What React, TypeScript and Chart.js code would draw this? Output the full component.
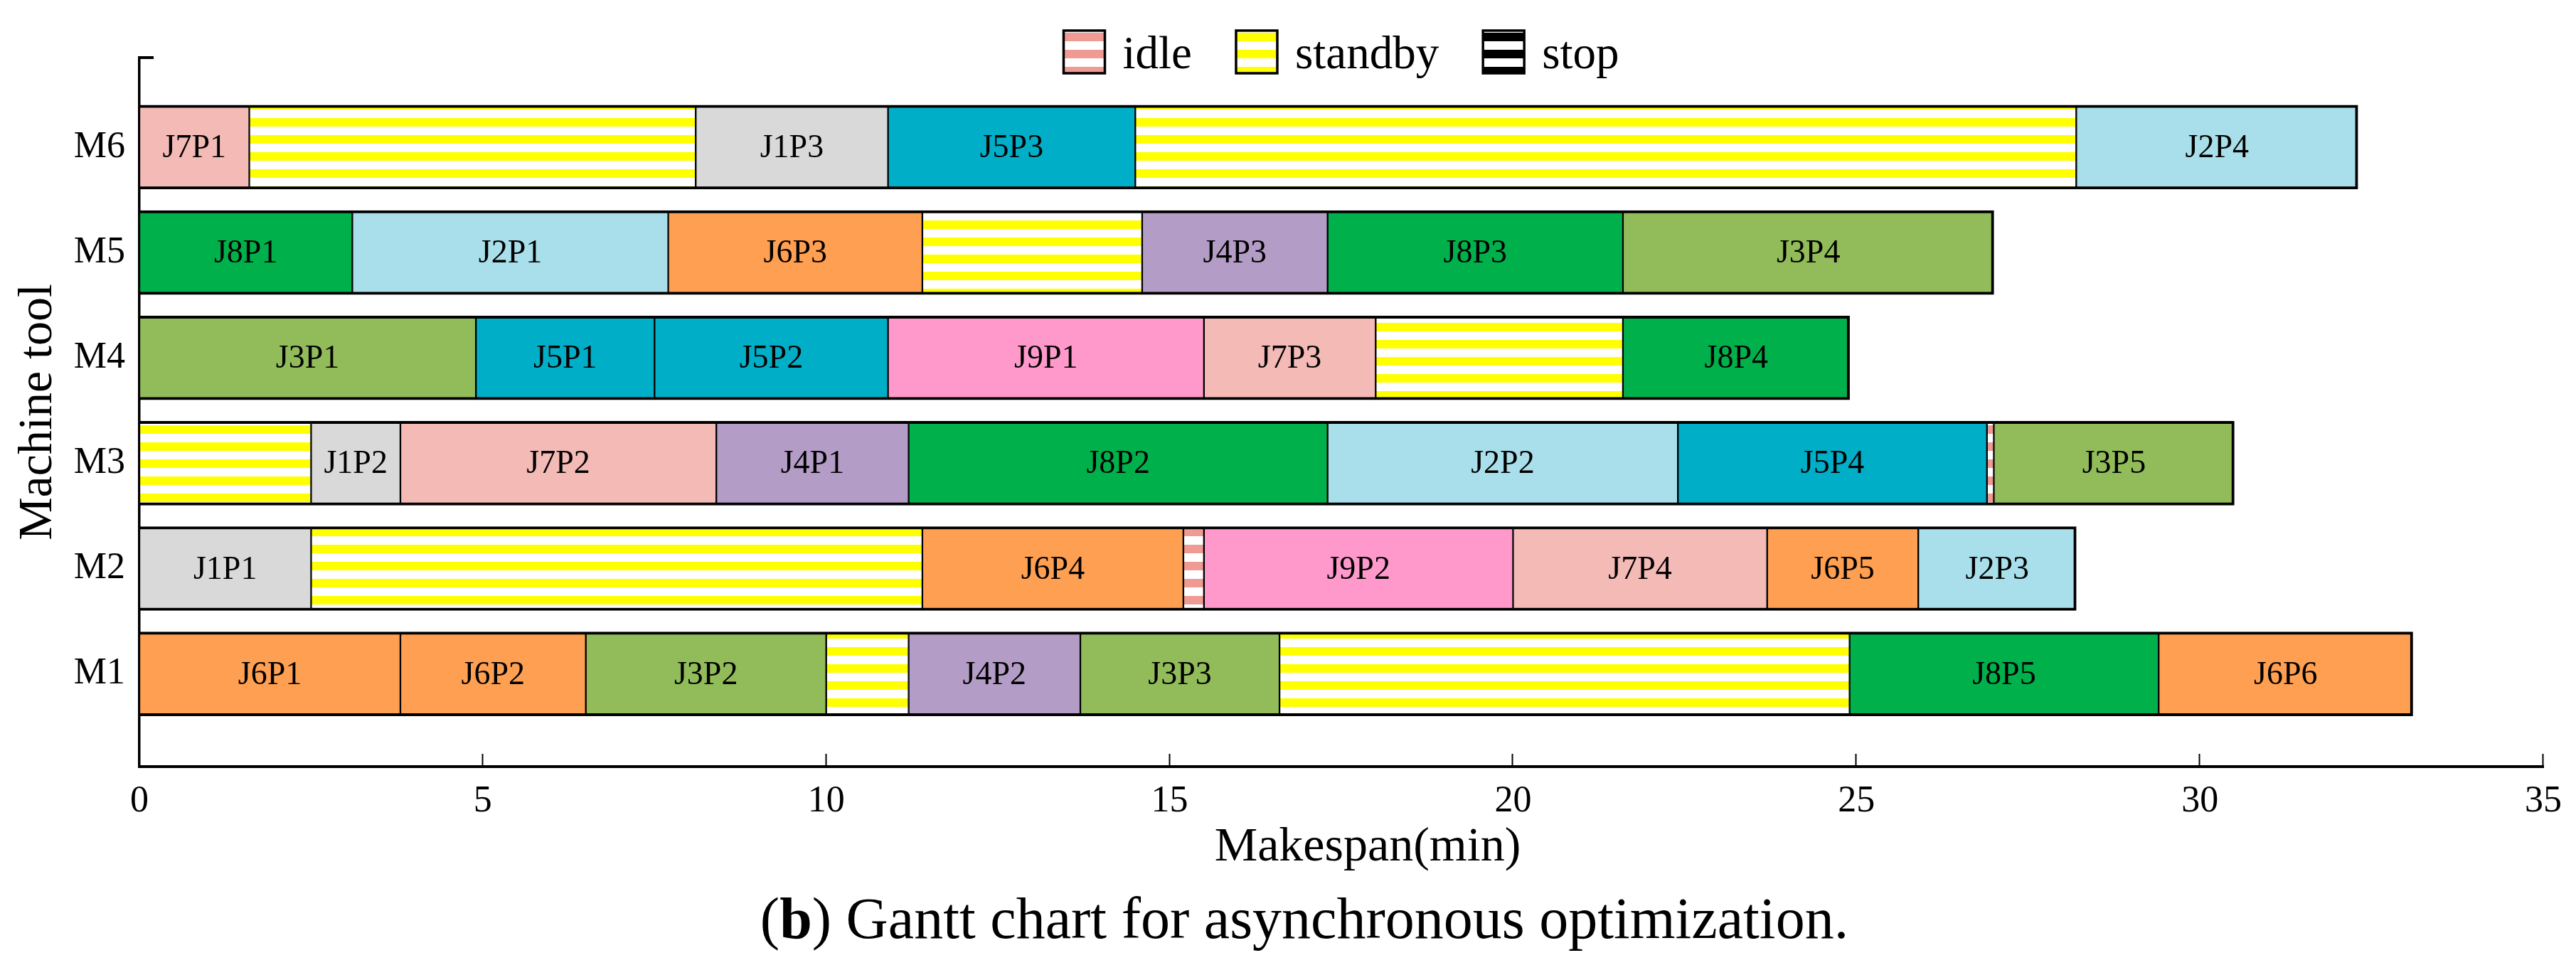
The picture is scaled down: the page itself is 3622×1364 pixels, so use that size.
import React, { useEffect, useRef } from 'react';
import { Chart, registerables } from 'chart.js';

Chart.register(...registerables);

// ---------------- data ----------------
const machines = ['M1', 'M2', 'M3', 'M4', 'M5', 'M6'];

const m1Tasks = ['J6P1', 'J6P2', 'J3P2', 'standby', 'J4P2', 'J3P3', 'standby', 'J8P5', 'J6P6'];
const m1Ends = [3.8, 6.5, 10.0, 11.2, 13.7, 16.6, 24.9, 29.4, 33.1];

const m2Tasks = ['J1P1', 'standby', 'J6P4', 'idle', 'J9P2', 'J7P4', 'J6P5', 'J2P3'];
const m2Ends = [2.5, 11.4, 15.2, 15.5, 20.0, 23.7, 25.9, 28.2];

const m3Tasks = ['standby', 'J1P2', 'J7P2', 'J4P1', 'J8P2', 'J2P2', 'J5P4', 'idle', 'J3P5'];
const m3Ends = [2.5, 3.8, 8.4, 11.2, 17.3, 22.4, 26.9, 27.0, 30.5];

const m4Tasks = ['J3P1', 'J5P1', 'J5P2', 'J9P1', 'J7P3', 'standby', 'J8P4'];
const m4Ends = [4.9, 7.5, 10.9, 15.5, 18.0, 21.6, 24.9];

const m5Tasks = ['J8P1', 'J2P1', 'J6P3', 'standby', 'J4P3', 'J8P3', 'J3P4'];
const m5Ends = [3.1, 7.7, 11.4, 14.6, 17.3, 21.6, 27.0];

const m6Tasks = ['J7P1', 'standby', 'J1P3', 'J5P3', 'standby', 'J2P4'];
const m6Ends = [1.6, 8.1, 10.9, 14.5, 28.2, 32.3];

const xTicks = [0, 5, 10, 15, 20, 25, 30, 35];
const legendLabels = ['idle', 'standby', 'stop'];
const xTitle = 'Makespan(min)';
const yTitle = 'Machine tool';

// ---------------- styles ----------------
const FONT = '"Liberation Serif", "Times New Roman", serif';
const jobColors: Record<string, string> = {
  J1: '#D9D9D9',
  J2: '#A9DFEA',
  J3: '#92BC5A',
  J4: '#B39CC5',
  J5: '#00AEC7',
  J6: '#FF9F51',
  J7: '#F3BAB6',
  J8: '#00B04B',
  J9: '#FF99CC',
};
const stripeColors: Record<string, string> = {
  idle: '#F09A94',
  standby: '#FFFF00',
  stop: '#000000',
};

const W = 3606;
const H = 1240;

function makePattern(ctx: CanvasRenderingContext2D, color: string) {
  const c = document.createElement('canvas');
  c.width = 4;
  c.height = 24;
  const g = c.getContext('2d')!;
  g.fillStyle = '#FFFFFF';
  g.fillRect(0, 0, 4, 24);
  g.fillStyle = color;
  for (let y = 0; y < 24; y++) {
    if (((y - 14 + 24) % 24) < 12) g.fillRect(0, y, 4, 1);
  }
  return ctx.createPattern(c, 'repeat')!;
}

export default function App() {
  const ref = useRef<HTMLCanvasElement | null>(null);

  useEffect(() => {
    const canvas = ref.current!;
    const ctx0 = canvas.getContext('2d')!;
    const patterns: Record<string, CanvasPattern> = {
      idle: makePattern(ctx0, stripeColors.idle),
      standby: makePattern(ctx0, stripeColors.standby),
      stop: makePattern(ctx0, stripeColors.stop),
    };

    const rows: [string[], number[]][] = [
      [m1Tasks, m1Ends],
      [m2Tasks, m2Ends],
      [m3Tasks, m3Ends],
      [m4Tasks, m4Ends],
      [m5Tasks, m5Ends],
      [m6Tasks, m6Ends],
    ];
    const segs: any[] = [];
    rows.forEach(([tasks, ends], mi) => {
      tasks.forEach((t, i) => {
        segs.push({
          x: [i === 0 ? 0 : ends[i - 1], ends[i]],
          y: mi + 1,
          task: t,
          last: i === tasks.length - 1,
        });
      });
    });

    const fillFor = (t: string) =>
      patterns[t] ? patterns[t] : jobColors[t.slice(0, 2)];

    const decor = {
      id: 'decor',
      afterDatasetsDraw(chart: any) {
        const ctx = chart.ctx as CanvasRenderingContext2D;
        const meta = chart.getDatasetMeta(0);
        ctx.save();
        ctx.fillStyle = '#000';
        ctx.font = `46px ${FONT}`;
        ctx.textAlign = 'center';
        ctx.textBaseline = 'middle';
        meta.data.forEach((bar: any, i: number) => {
          const s = segs[i];
          if (patterns[s.task]) return;
          const p = bar.getProps(['x', 'y', 'base'], true);
          ctx.fillText(s.task, (p.x + p.base) / 2, p.y + 2);
        });
        ctx.restore();
      },
      afterDraw(chart: any) {
        const ctx = chart.ctx as CanvasRenderingContext2D;
        const area = chart.chartArea;
        const xs = chart.scales.x;
        ctx.save();
        ctx.strokeStyle = '#000';
        // inward x ticks
        ctx.lineWidth = 2;
        xTicks.forEach((v) => {
          if (v === 0) return;
          const px = Math.round(xs.getPixelForValue(v)) - 0.5;
          ctx.beginPath();
          ctx.moveTo(px, area.bottom);
          ctx.lineTo(px, area.bottom - 18);
          ctx.stroke();
        });
        // top stub on y axis
        ctx.lineWidth = 4;
        ctx.beginPath();
        ctx.moveTo(area.left - 1, area.top);
        ctx.lineTo(area.left + 20, area.top);
        ctx.stroke();

        // x-axis title (slightly right of centre, as in the source)
        ctx.fillStyle = '#000';
        ctx.font = `68px ${FONT}`;
        ctx.textAlign = 'center';
        ctx.textBaseline = 'middle';
        ctx.fillText(xTitle, (area.left + area.right) / 2 + 37, 1184);

        // legend
        ctx.font = `65px ${FONT}`;
        ctx.textBaseline = 'alphabetic';
        ctx.textAlign = 'left';
        const boxW = 58;
        const boxTop = 35;
        const boxH = 60;
        const gapText = 25;
        const gapItem = 62;
        const widths = legendLabels.map((l) => ctx.measureText(l).width);
        const total =
          widths.reduce((a, b) => a + b, 0) +
          legendLabels.length * (boxW + gapText) +
          (legendLabels.length - 1) * gapItem;
        let x = (area.left + area.right) / 2 - total / 2;
        legendLabels.forEach((l, i) => {
          ctx.fillStyle = patterns[l];
          ctx.fillRect(x, boxTop, boxW, boxH);
          ctx.lineWidth = 3.5;
          ctx.strokeStyle = '#000';
          ctx.strokeRect(x, boxTop, boxW, boxH);
          ctx.fillStyle = '#000';
          ctx.fillText(l, x + boxW + gapText, 88);
          x += boxW + gapText + widths[i] + gapItem;
        });
        ctx.restore();
      },
    };

    const chart = new Chart(canvas, {
      type: 'bar',
      data: {
        datasets: [
          {
            data: segs,
            backgroundColor: (c: any) => fillFor(c.raw ? c.raw.task : 'J1'),
            borderColor: '#000',
            borderWidth: (c: any) => ({
              top: 4,
              bottom: 4,
              left: 1.5,
              right: c.raw && c.raw.last ? 4 : 1.5,
            }),
            borderSkipped: false,
            barThickness: 118,
          } as any,
        ],
      },
      options: {
        indexAxis: 'y',
        responsive: false,
        maintainAspectRatio: false,
        devicePixelRatio: 1,
        animation: false,
        layout: { padding: { top: 73, right: 38, left: 0, bottom: 0 } },
        plugins: {
          legend: { display: false },
          tooltip: { enabled: false },
          title: { display: false },
        },
        scales: {
          x: {
            type: 'linear',
            position: 'bottom',
            min: 0,
            max: 35,
            offset: false,
            afterBuildTicks: (s: any) => {
              s.ticks = xTicks.map((v) => ({ value: v }));
            },
            ticks: {
              autoSkip: false,
              maxRotation: 0,
              color: '#000',
              padding: 12,
              font: { family: FONT, size: 52, lineHeight: 1.43 },
            },
            grid: { display: false, drawTicks: false },
            border: { display: true, color: '#000', width: 4 },
            title: { display: false },
            afterFit: (s: any) => {
              s.height = H - 1070;
            },
          },
          y: {
            type: 'linear',
            min: 0.12,
            max: 6.85,
            offset: false,
            afterBuildTicks: (s: any) => {
              s.ticks = machines.map((_, i) => ({ value: i + 1 }));
            },
            ticks: {
              autoSkip: false,
              color: '#000',
              padding: 20,
              font: { family: FONT, size: 52 },
              callback: (v: any) => machines[Number(v) - 1] ?? '',
            },
            grid: { display: false, drawTicks: false },
            border: { display: true, color: '#000', width: 3.5 },
            title: {
              display: true,
              text: yTitle,
              color: '#000',
              font: { family: FONT, size: 68 },
              padding: { top: 5, bottom: 0 },
            },
            afterFit: (s: any) => {
              s.width = 188;
            },
          },
        },
      } as any,
      plugins: [decor],
    });

    return () => chart.destroy();
  }, []);

  return (
    <div style={{ position: 'relative', width: W, height: 1340 }}>
      <canvas
        ref={ref}
        width={W}
        height={H}
        style={{ display: 'block', width: W, height: H }}
      />
      <div
        style={{
          position: 'absolute',
          top: 1243,
          left: 1826,
          transform: 'translateX(-50%)',
          whiteSpace: 'nowrap',
          fontFamily: FONT,
          fontSize: 82,
          lineHeight: '82px',
          color: '#000',
        }}
      >
        (<b>b</b>) Gantt chart for asynchronous optimization.
      </div>
    </div>
  );
}
